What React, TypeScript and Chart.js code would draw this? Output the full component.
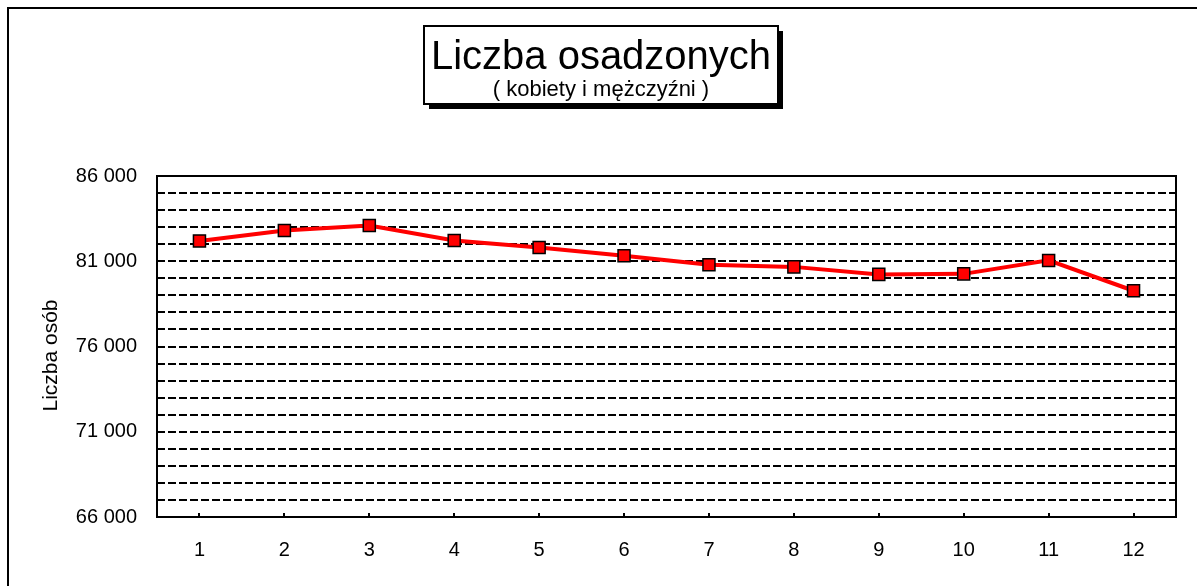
import React, { useEffect, useRef } from "react";
import { Chart, registerables } from "chart.js";

Chart.register(...registerables);

const months: string[] = ["1", "2", "3", "4", "5", "6", "7", "8", "9", "10", "11", "12"];
const inmates: number[] = [82190, 82800, 83100, 82220, 81810, 81320, 80790, 80670, 80230, 80260, 81050, 79270];
const yMin = 66000;
const yMax = 86000;
const yGridStep = 1000;
const yLabelStep = 5000;
const titleText = "Liczba osadzonych";
const subtitleText = "( kobiety i mężczyźni )";
const yAxisTitle = "Liczba osób";

const FONT = "'Liberation Sans', Arial, sans-serif";

function fmt(v: number): string {
  const th = Math.floor(v / 1000);
  const rest = String(v % 1000).padStart(3, "0");
  return th + " " + rest;
}

const decorPlugin = {
  id: "decor",
  beforeDraw(chart: any) {
    const ctx = chart.ctx;
    ctx.save();
    ctx.fillStyle = "#ffffff";
    ctx.fillRect(0, 0, chart.width, chart.height);
    ctx.strokeStyle = "#000";
    ctx.lineWidth = 2;
    ctx.strokeRect(8, 8, chart.width + 20, chart.height + 20);
    ctx.restore();
  },
  beforeDatasetsDraw(chart: any) {
    const ctx = chart.ctx;
    const a = chart.chartArea;
    const xs = chart.scales.x;
    ctx.save();
    ctx.strokeStyle = "#000";
    ctx.lineWidth = 2;
    ctx.strokeRect(a.left, a.top, a.right - a.left, a.bottom - a.top);
    for (let i = 0; i < months.length; i++) {
      const x = Math.round(xs.getPixelForValue(i));
      ctx.beginPath();
      ctx.moveTo(x, a.bottom);
      ctx.lineTo(x, a.bottom - 4);
      ctx.stroke();
    }
    // y axis title
    ctx.translate(51, (a.top + a.bottom) / 2 + 9);
    ctx.rotate(-Math.PI / 2);
    ctx.fillStyle = "#000";
    ctx.textAlign = "center";
    ctx.textBaseline = "middle";
    ctx.font = "21px " + FONT;
    ctx.fillText(yAxisTitle, 0, 0);
    ctx.restore();
  },
  afterDraw(chart: any) {
    const ctx = chart.ctx;
    ctx.save();
    const bx = 424, by = 26, bw = 354, bh = 78, sh = 5;
    ctx.fillStyle = "#000";
    ctx.fillRect(bx + sh, by + sh, bw, bh);
    ctx.fillStyle = "#fff";
    ctx.fillRect(bx, by, bw, bh);
    ctx.strokeStyle = "#000";
    ctx.lineWidth = 2;
    ctx.strokeRect(bx, by, bw, bh);
    ctx.fillStyle = "#000";
    ctx.textAlign = "center";
    ctx.textBaseline = "alphabetic";
    ctx.font = "40px " + FONT;
    ctx.fillText(titleText, bx + bw / 2, 69);
    ctx.font = "22px " + FONT;
    ctx.fillText(subtitleText, bx + bw / 2, 96);
    ctx.restore();
  },
};

export default function App() {
  const ref = useRef<HTMLCanvasElement | null>(null);
  useEffect(() => {
    if (!ref.current) return;
    const chart = new Chart(ref.current, {
      type: "line",
      data: {
        labels: months,
        datasets: [
          {
            data: inmates,
            borderColor: "#FF0000",
            borderWidth: 4,
            tension: 0,
            pointStyle: "rect",
            pointRadius: 8.5,
            pointBackgroundColor: "#FF0000",
            pointBorderColor: "#000000",
            pointBorderWidth: 1.5,
          },
        ],
      },
      options: {
        responsive: false,
        animation: false,
        devicePixelRatio: 1,
        layout: { padding: { left: 0, top: 176, right: 21, bottom: 0 } },
        plugins: { legend: { display: false }, tooltip: { enabled: false } },
        scales: {
          x: {
            offset: true,
            grid: { display: false, drawTicks: false },
            border: { display: false },
            ticks: {
              color: "#000",
              font: { family: FONT, size: 20 },
              padding: 21,
              autoSkip: false,
              maxRotation: 0,
            },
            afterFit(scale: any) {
              scale.height = 69;
            },
          },
          y: {
            min: yMin,
            max: yMax,
            grid: { color: "#000", lineWidth: 2, drawTicks: false },
            border: { display: false, dash: [8, 3] },
            ticks: {
              stepSize: yGridStep,
              autoSkip: false,
              color: "#000",
              font: { family: FONT, size: 20 },
              padding: 20,
              callback: (v: any) => ((Number(v) - yMin) % yLabelStep === 0 ? fmt(Number(v)) : ""),
            },
            afterFit(scale: any) {
              scale.width = 157;
            },
          },
        },
      },
      plugins: [decorPlugin],
    } as any);
    return () => chart.destroy();
  }, []);
  return (
    <div style={{ position: "fixed", left: 0, top: 0, width: 1197, height: 586, background: "#fff" }}>
      <canvas ref={ref} width={1197} height={586} style={{ display: "block" }} />
    </div>
  );
}
